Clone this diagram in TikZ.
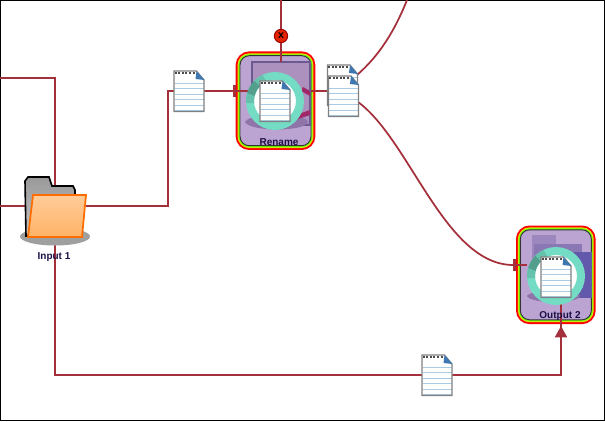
\documentclass[tikz,border=0pt]{standalone}
\usepackage{fontspec}
\setmainfont{Liberation Sans}
\usepackage{xcolor}
\usetikzlibrary{arrows.meta}
\definecolor{wirered}{HTML}{A3303A}
\definecolor{boxlilac}{HTML}{BBA4D2}
\definecolor{pictlilac}{HTML}{AC90BE}
\definecolor{pictdark}{HTML}{8E74A8}
\definecolor{pictedge}{HTML}{6A5A90}
\definecolor{pictwine}{HTML}{A02868}
\definecolor{folderback}{HTML}{9C88BC}
\definecolor{foldermid}{HTML}{8A78B4}
\definecolor{folderblue}{HTML}{6258AC}
\definecolor{ringteal}{HTML}{74DCC4}
\definecolor{labelink}{HTML}{1C0F45}
\definecolor{docblue}{HTML}{3F78B0}
\definecolor{docline}{HTML}{A9CBE4}
\newcommand{\docsheet}[3]{
    \node[docfile] (#1) at (#2,#3) {};
    \begin{scope}[shift={(#1.north west)}]
    \fill[white] (0.5,1) -- (23,1) -- (30.5,10) -- (30.5,41.5) -- (0.5,41.5) -- cycle;
    \foreach \yy in {13,18.5,24,29.5,35,40}
        \draw[docline,line width=.75pt] (1,\yy) -- (30,\yy);
    \draw[gray,line width=.9pt] (0.5,1) -- (23,1) -- (30.5,10) -- (30.5,41.5) -- (0.5,41.5) -- cycle;
    \draw[black!70,line width=1.5pt,dash pattern=on 1.5pt off 1.2pt] (1,3) -- (22,3);
    \fill[docblue] (23,1) -- (31,10) -- (22,9) -- cycle;
    \end{scope}
}
\tikzset{
    wire/.style={draw=wirered,line width=1.3pt},
    porttip/.style={-{Rectangle[length=2.6pt,width=9pt]}},
    docfile/.style={minimum width=23.25pt,minimum height=31.5pt,inner sep=0pt,outer sep=0pt},
    taskbox/.style={rectangle,rounded corners=7pt,minimum width=53.25pt,minimum height=67.5pt,inner sep=0pt,outer sep=0pt,
        preaction={draw=red,line width=6.4pt},preaction={draw=yellow!85!green,line width=3.6pt},
        preaction={draw=green!60!yellow,line width=2pt},fill=boxlilac,draw=black!80,line width=.7pt},
    ring/.style={circle,draw=ringteal,line width=6pt,fill=white,minimum size=37.5pt,inner sep=0pt},
    ringdark/.style={line width=6pt,line cap=butt},
    boxtext/.style={font=\bfseries\fontsize{7.5}{9}\selectfont,text=labelink,inner sep=0pt}
}
\begin{document}
\begin{tikzpicture}[x=0.75pt,y=-0.75pt]
    \useasboundingbox (0,0) rectangle (605,421);
    \draw[black,line width=.9pt] (0.5,420.5) -- (0.5,0.5) -- (604.5,0.5) -- (604.5,420.5) -- cycle;
    \coordinate (inTop) at (0,78);
    \coordinate (inLeft) at (0,206);
    \coordinate (bend1) at (168,91);
    \coordinate (bend2) at (561,375);
    \coordinate (topEnd) at (281,0);
    \coordinate (stopIn) at (281,62);
    \coordinate (upEnd) at (407,0);
    \coordinate (renamePort) at (236,91);
    \coordinate (renameIn) at (252,91);
    \coordinate (outPort) at (516,265);
    \coordinate (outIn) at (527,265);
    \coordinate (outTip) at (561,326);
    \coordinate (outStem) at (561,304);
    \node[minimum width=52.5pt,minimum height=58.5pt,inner sep=0pt] (input) at (55,206) {};
    \node[taskbox] (rename) at (275.5,100.7) {};
    \node[taskbox] (output) at (555.8,274.8) {};
    % pictures inside the boxes
    \draw[pictedge,line width=.9pt,fill=pictlilac] (252,62) rectangle (310,125);
    \fill[pictdark] (245,122) .. controls (250,112) and (305,112) .. (308,122) .. controls (305,132) and (250,132) .. (245,122) -- cycle;
    \fill[pictwine] (303,87) -- (310,91) -- (310,96) -- (301,91) -- cycle;
    \fill[pictwine] (293,116) -- (310,110) -- (310,115) -- (295,120) -- cycle;
    \fill[folderback] (532,235) rectangle (556,290);
    \fill[foldermid] (534,244) rectangle (582,290);
    \fill[folderblue] (568,252) rectangle (592,298);
    \fill[pictdark] (527,296) .. controls (530,289) and (578,289) .. (580,296) .. controls (578,304) and (530,304) .. (527,296) -- cycle;
    % wires
    \draw[wire] (inTop) -| (input.north);
    \draw[wire] (input.north) -- (input.south);
    \draw[wire] (inLeft) -- (input.center) -| (bend1) -- (renamePort);
    \draw[wire,porttip] (bend1) -- (renamePort);
    \draw[wire,line width=2pt] (renamePort) -- (renameIn);
    \draw[wire] (topEnd) -- (stopIn);
    \draw[wire,line width=2pt] (rename.east |- bend1) -- (328,91);
    \draw[wire] (357,75) .. controls (380,55) and (395,30) .. (upEnd);
    \draw[wire,porttip] (358,102) .. controls (410,140) and (445,265) .. (outPort);
    \draw[wire,line width=2pt] (outPort) -- (outIn);
    \draw[wire] (input.south) |- (bend2) -- (outStem);
    \draw[wire,-{Triangle[length=8.5pt,width=9pt]}] (bend2) -- (outTip);
    % input folder
    \fill[gray!75] (55,236.5) ellipse (35 and 9);
    \draw[black,line width=1.2pt,top color=gray!80,bottom color=gray!45] (26,236) -- (25,181) -- (28,177) -- (49,177) -- (52,186) -- (73,186) -- (75,190) -- (75,200) -- (40,236) -- cycle;
    \draw[orange!85!red,line width=1.3pt,top color=orange!40!white,bottom color=orange!60!white] (33,195) -- (86,195) -- (82,237) -- (28,237) -- cycle;
    \node[boxtext] (inputlbl) at (54,257) {Input 1};
    \node[boxtext] (renamelbl) at (279,142) {Rename};
    \node[boxtext] (outputlbl) at (560,316) {Output 2};
    % documents
    \docsheet{doc1}{189}{91}
    \docsheet{doc2}{342.5}{85}
    \docsheet{doc3}{343.5}{96}
    \docsheet{doc4}{437}{375}
    % stop mark
    \node[circle,fill=red!70!orange!90!black,draw=red!60!black,line width=.7pt,minimum size=10pt,inner sep=0pt,font=\bfseries\fontsize{8}{8}\selectfont] (stop) at (281,36) {x};
    % rings
    \node[ring] (ring1) at (275,101) {};
    \node[ring] (ring2) at (556,276) {};
    \foreach \cx/\cy in {275/101,556/276} {
        \draw[ringdark,draw=ringteal!88!black] ([shift={(175:25)}]\cx,\cy) arc[start angle=175,end angle=195,radius=25];
        \draw[ringdark,draw=ringteal!72!black] ([shift={(195:25)}]\cx,\cy) arc[start angle=195,end angle=225,radius=25];
        \draw[ringdark,draw=ringteal!88!black] ([shift={(225:25)}]\cx,\cy) arc[start angle=225,end angle=245,radius=25];
    }
    \docsheet{doc5}{275}{101}
    \docsheet{doc6}{556}{277}
\end{tikzpicture}
\end{document}
